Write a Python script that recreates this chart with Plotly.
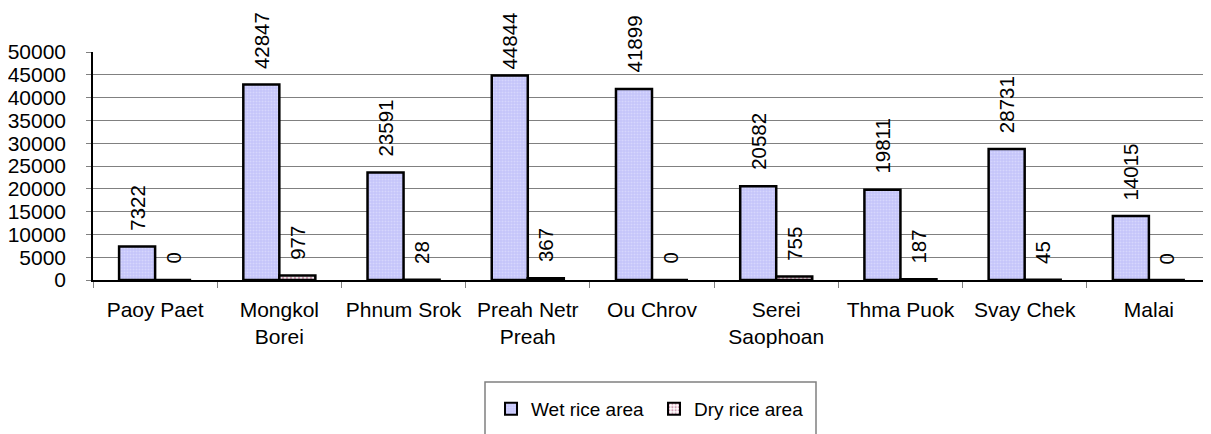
import plotly.graph_objects as go

categories = ["Paoy Paet", "Mongkol<br>Borei", "Phnum Srok", "Preah Netr<br>Preah", "Ou Chrov",
              "Serei<br>Saophoan", "Thma Puok", "Svay Chek", "Malai"]
wet_rice = [7322, 42847, 23591, 44844, 41899, 20582, 19811, 28731, 14015]
dry_rice = [0, 977, 28, 367, 0, 755, 187, 45, 0]
series_names = ["Wet rice area", "Dry rice area"]
y_ticks = list(range(0, 50001, 5000))
y_tick_labels = [str(v) for v in y_ticks]

FONT = "Liberation Sans, Arial, sans-serif"
LABEL_CAP = 42700  # data labels are kept inside the chart, like the original

fig = go.Figure()
fig.add_trace(go.Bar(
    x=categories, y=wet_rice, name=series_names[0],
    marker=dict(color="#ccccff", line=dict(color="black", width=2.5),
                pattern=dict(shape=".", fgcolor="#e8e8ff", bgcolor="#c4c4fa", size=3, solidity=0.35)),
))
fig.add_trace(go.Bar(
    x=categories, y=dry_rice, name=series_names[1],
    marker=dict(color="white", line=dict(color="black", width=2.5),
                pattern=dict(shape=".", fgcolor="#a0406a", bgcolor="white", size=4, solidity=0.4)),
))

annotations = []
for cat, w, d in zip(categories, wet_rice, dry_rice):
    annotations.append(dict(x=cat, y=min(w, LABEL_CAP), xref="x", yref="y", text=str(w), textangle=-90,
                            showarrow=False, xanchor="center", yanchor="bottom",
                            xshift=-18, yshift=14, font=dict(family=FONT, size=20.5, color="black")))
    annotations.append(dict(x=cat, y=min(d, LABEL_CAP), xref="x", yref="y", text=str(d), textangle=-90,
                            showarrow=False, xanchor="center", yanchor="bottom",
                            xshift=18, yshift=14, font=dict(family=FONT, size=20.5, color="black")))

# page body has an 8px margin, so the figure is 8px smaller and margins compensate
fig.update_layout(
    width=1203, height=426,
    margin=dict(l=85, r=0, t=44, b=154, autoexpand=False),
    paper_bgcolor="white", plot_bgcolor="white",
    barmode="group", bargap=0.42, bargroupgap=0,
    font=dict(family=FONT, size=21, color="black"),
    annotations=annotations,
    showlegend=True,
    legend=dict(orientation="h", x=0.356, xanchor="left", y=-0.482, yanchor="top",
                font=dict(family=FONT, size=19, color="black"), entrywidth=118, entrywidthmode="pixels",
                borderwidth=0, bgcolor="rgba(0,0,0,0)", itemsizing="constant"),
    shapes=[dict(type="rect", xref="paper", yref="paper",
                 x0=(485 - 93) / 1118, x1=(816 - 93) / 1118,
                 y0=-(382 - 280) / 228, y1=-(445 - 280) / 228,
                 line=dict(color="#808080", width=1.5), fillcolor="rgba(0,0,0,0)", layer="below")],
)
fig.update_xaxes(
    type="category", showline=True, linecolor="black", linewidth=1.5,
    ticks="outside", tickson="boundaries", ticklen=6, tickcolor="#808080",
    showgrid=False, tickfont=dict(family=FONT, size=21), ticklabelstandoff=10, tickangle=0,
)
fig.update_yaxes(
    range=[0, 50000], tickvals=y_ticks, ticktext=y_tick_labels,
    showline=True, linecolor="black", linewidth=1.5,
    ticks="outside", ticklen=5, tickcolor="#808080",
    showgrid=True, gridcolor="#808080", gridwidth=1,
    tickfont=dict(family=FONT, size=21), ticklabelstandoff=16, zeroline=False,
)

fig.write_html("out.html")
